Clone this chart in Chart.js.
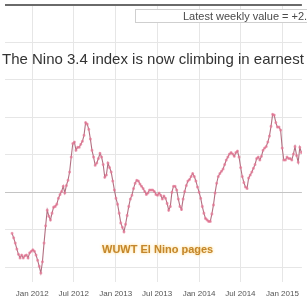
<!DOCTYPE html>
<html>
<head>
<meta charset="utf-8">
<script src="https://cdn.jsdelivr.net/npm/chart.js@4.4.0/dist/chart.umd.min.js"></script>
<style>
  html, body { margin: 0; padding: 0; background: #fff; }
</style>
</head>
<body>
<canvas id="nino" width="307" height="304"></canvas>
<script>
// weekly Nino 3.4 values (deg C), one per week, first week 5 Oct 2011
var firstWeek = '2011-10-05';
var weeklyValues = [
  -0.55, -0.61, -0.68, -0.76, -0.83, -0.88, -0.84, -0.88, -0.85, -0.84,
  -0.88, -0.81, -0.79, -0.77, -0.79, -0.84, -0.91, -0.99, -1.08, -0.93,
  -0.68, -0.45, -0.24, -0.32, -0.37, -0.28, -0.20, -0.19, -0.16, -0.08,
  -0.03, 0.01, 0.08, -0.01, 0.09, 0.16, 0.27, 0.47, 0.65, 0.67,
  0.56, 0.60, 0.60, 0.64, 0.68, 0.76, 0.93, 0.91, 0.84, 0.71,
  0.56, 0.47, 0.36, 0.39, 0.45, 0.52, 0.47, 0.37, 0.20, 0.23,
  0.39, 0.33, 0.27, 0.15, 0.03, -0.08, -0.16, -0.28, -0.41, -0.47,
  -0.53, -0.43, -0.31, -0.19, -0.09, -0.04, 0.05, 0.12, 0.16, 0.15,
  0.11, 0.08, 0.05, 0.01, -0.03, -0.01, 0.03, 0.03, 0.03, 0.01,
  -0.03, -0.04, -0.01, -0.04, -0.09, -0.05, -0.08, -0.15, -0.24, -0.19,
  0.00, 0.08, 0.08, 0.03, -0.09, -0.19, -0.23, -0.09, 0.01, 0.09,
  0.15, 0.17, 0.21, 0.25, 0.21, 0.15, 0.07, 0.00, -0.08, -0.19,
  -0.28, -0.35, -0.37, -0.39, -0.39, -0.29, -0.17, -0.01, 0.12, 0.21,
  0.25, 0.28, 0.31, 0.37, 0.43, 0.47, 0.51, 0.53, 0.51, 0.48,
  0.53, 0.55, 0.47, 0.33, 0.21, 0.13, 0.07, 0.05, 0.19, 0.23,
  0.27, 0.32, 0.37, 0.45, 0.47, 0.43, 0.48, 0.56, 0.59, 0.61,
  0.67, 0.75, 0.88, 1.04, 1.03, 0.93, 0.87, 0.87, 0.83, 0.59,
  0.43, 0.43, 0.47, 0.45, 0.45, 0.43, 0.51, 0.61, 0.49, 0.40,
  0.60, 0.53
];
var tickDates = ['2012-01-01', '2012-07-01', '2013-01-01', '2013-07-01', '2014-01-01', '2014-07-01', '2015-01-01'];
var tickLabels = ['Jan 2012', 'Jul 2012', 'Jan 2013', 'Jul 2013', 'Jan 2014', 'Jul 2014', 'Jan 2015'];
var yGrid = [-1, -0.5, 0, 0.5, 1, 1.5, 2, 2.5];
var titleText = 'The Nino 3.4 index is now climbing in earnest';
var legendText = 'Latest weekly value = +2.0';
var noteText = 'WUWT El Nino pages';

// days counted from 1 Jan 2012
function dayOffset(iso) {
  return (Date.parse(iso) - Date.parse('2012-01-01')) / 86400000;
}

var start = dayOffset(firstWeek);
var points = weeklyValues.map(function (v, i) {
  return { x: start + 7 * i, y: v };
});

var extraText = {
  id: 'extraText',
  afterDatasetsDraw: function (chart) {
    var c = chart.ctx;
    c.save();
    // legend box, cut off at the right
    c.fillStyle = '#fff';
    c.fillRect(135.5, 9.5, 180, 13);
    c.strokeStyle = '#cfcfcf';
    c.lineWidth = 1;
    c.strokeRect(135.5, 9.5, 180, 13);
    c.fillStyle = '#4a4a4a';
    c.font = '11px "Liberation Sans", Arial, sans-serif';
    c.textBaseline = 'middle';
    c.fillText(legendText, 183, 16.5);

    c.fillStyle = '#333';
    c.font = '15px "Liberation Sans", Arial, sans-serif';
    c.textBaseline = 'alphabetic';
    c.fillText(titleText, 2, 64);

    c.font = 'bold 11px "Liberation Sans", Arial, sans-serif';
    c.textBaseline = 'middle';
    c.shadowColor = 'rgba(255, 205, 90, 0.9)';
    c.shadowBlur = 3;
    c.fillStyle = '#c4862c';
    c.fillText(noteText, 102, 250);
    c.restore();
  }
};

new Chart(document.getElementById('nino'), {
  type: 'line',
  data: {
    datasets: [{
      label: 'Nino 3.4',
      data: points,
      borderColor: 'rgba(170, 95, 115, 0.9)',
      borderWidth: 1.1,
      pointRadius: 1,
      pointBackgroundColor: 'rgba(230, 120, 150, 0.6)',
      pointBorderColor: 'rgba(230, 120, 150, 0.6)',
      tension: 0
    }]
  },
  options: {
    responsive: false,
    animation: false,
    devicePixelRatio: 1,
    layout: { padding: { top: 5, left: 0, right: 0, bottom: 0 } },
    plugins: {
      legend: { display: false },
      tooltip: { enabled: false }
    },
    scales: {
      x: {
        type: 'linear',
        min: -118.5,
        max: 1181.2,
        afterBuildTicks: function (s) {
          s.ticks = tickDates.map(function (d) { return { value: dayOffset(d) }; });
        },
        afterFit: function (s) { s.height = 22; },
        border: { display: false },
        grid: { color: '#e6e6e6', drawTicks: false },
        ticks: {
          autoSkip: false,
          maxRotation: 0,
          padding: 7,
          color: '#555',
          font: { size: 8, family: '"Liberation Sans", Arial, sans-serif' },
          callback: function (v, i) { return tickLabels[i]; }
        }
      },
      y: {
        min: -1.2,
        max: 2.5,
        afterBuildTicks: function (s) {
          s.ticks = yGrid.map(function (v) { return { value: v }; });
        },
        afterFit: function (s) { s.width = 0; },
        border: { display: false },
        ticks: { display: false },
        grid: {
          drawTicks: false,
          color: function (ctx) {
            var v = ctx.tick ? ctx.tick.value : null;
            if (v === 2.5) return '#6a6a6a';
            if (v === 0) return '#c4c4c4';
            return '#e6e6e6';
          },
          lineWidth: function (ctx) {
            return ctx.tick && ctx.tick.value === 2.5 ? 2 : 1;
          }
        }
      }
    }
  },
  plugins: [extraText]
});
</script>
</body>
</html>
